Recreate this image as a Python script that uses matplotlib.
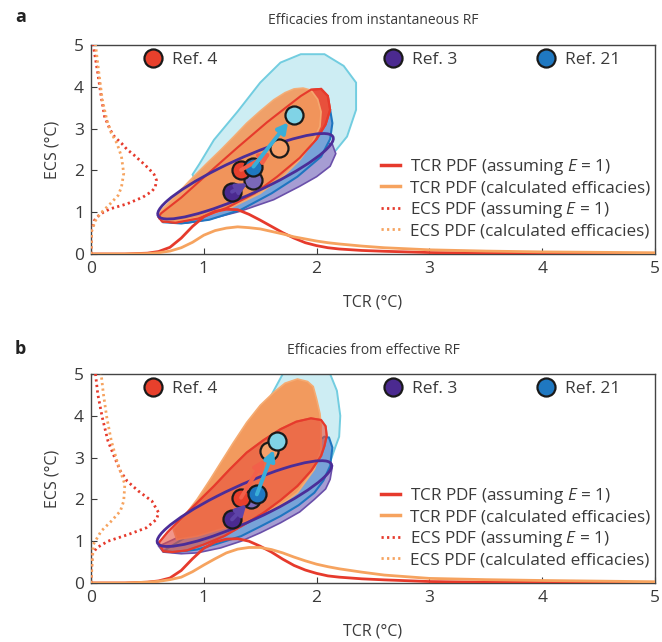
import matplotlib
matplotlib.use("Agg")
import matplotlib.pyplot as plt
from matplotlib.patches import Polygon, Ellipse
from matplotlib.lines import Line2D

plt.rcParams['font.family'] = ['Open Sans', 'DejaVu Sans']
plt.rcParams['mathtext.fontset'] = 'custom'
plt.rcParams['mathtext.rm'] = 'Open Sans'
plt.rcParams['mathtext.it'] = 'Open Sans:italic'

TXT = '#3a3a3a'
RED = '#e63a2c'
ORANGE = '#f6a35f'

ref_names = ['Ref. 4', 'Ref. 3', 'Ref. 21']
ref_colors = ['#e8402c', '#4b2a90', '#1f78c1']
calc_colors = ['#f5a06a', '#7a68b8', '#80d3e6']
arrow_colors = ['#f2604a', '#5e44a8', '#3aaed8']

# ---- panel a : efficacies from instantaneous RF ----
e1_tcr_a = [1.33, 1.25, 1.44]
e1_ecs_a = [2.01, 1.49, 2.09]
calc_tcr_a = [1.67, 1.44, 1.80]
calc_ecs_a = [2.53, 1.77, 3.33]

cyan_a = [(0.90, 1.90), (0.96, 2.15), (1.09, 2.73), (1.30, 3.41), (1.50, 4.10), (1.68, 4.58),
          (1.86, 4.78), (2.07, 4.78), (2.24, 4.50), (2.35, 4.10), (2.35, 3.45), (2.27, 2.81),
          (2.15, 2.41), (2.04, 2.09), (1.70, 1.60), (1.20, 1.40), (0.95, 1.60)]
purple_a = [(0.60, 0.85), (0.70, 0.76), (0.85, 0.74), (1.03, 0.82), (1.32, 1.02), (1.62, 1.30),
            (1.85, 1.62), (2.00, 1.85), (2.12, 2.10), (2.17, 2.40), (2.14, 2.62), (2.00, 2.75),
            (1.60, 2.20), (1.20, 1.60), (0.85, 1.10)]
blue_a = [(0.62, 0.85), (0.90, 1.30), (1.20, 1.80), (1.50, 2.40), (1.75, 2.95), (1.95, 3.40),
          (2.05, 3.62), (2.12, 3.45), (2.14, 3.13), (2.12, 2.75), (2.04, 2.33), (1.83, 1.85),
          (1.60, 1.45), (1.33, 1.06), (1.05, 0.82), (0.80, 0.73), (0.64, 0.76)]
red_a = [(0.60, 0.88), (0.62, 0.97), (0.80, 1.35), (1.09, 2.05), (1.30, 2.55), (1.56, 3.15),
         (1.75, 3.55), (1.86, 3.78), (1.95, 3.93), (2.04, 3.95), (2.10, 3.78), (2.12, 3.45),
         (2.08, 3.10), (2.00, 2.75), (1.85, 2.30), (1.65, 1.85), (1.45, 1.45), (1.20, 1.10),
         (0.95, 0.85), (0.75, 0.75), (0.63, 0.78)]
orange_a = [(0.60, 0.90), (0.62, 1.04), (0.75, 1.40), (0.88, 1.77), (1.02, 2.15), (1.15, 2.49),
            (1.27, 2.82), (1.38, 3.13), (1.50, 3.42), (1.62, 3.69), (1.72, 3.86), (1.80, 3.95),
            (1.88, 3.97), (1.95, 3.92), (2.01, 3.70), (2.04, 3.40), (2.03, 3.05), (1.96, 2.65),
            (1.85, 2.25), (1.70, 1.85), (1.50, 1.45), (1.25, 1.12), (1.00, 0.90), (0.78, 0.78),
            (0.65, 0.78)]
ellipse_a = (1.37, 1.86, 2.50, 0.60, 53.7)  # centre x, centre y, width, height, angle

tcr_x_a = [0, 0.3, 0.5, 0.6, 0.7, 0.8, 0.9, 1.0, 1.1, 1.2, 1.3, 1.4, 1.5, 1.6, 1.7, 1.8, 1.9,
           2.0, 2.1, 2.2, 2.4, 2.6, 3.0, 3.5, 4.0, 5.0]
tcr_e1_a = [0, 0, 0.02, 0.06, 0.16, 0.38, 0.66, 0.89, 1.02, 1.07, 1.06, 0.95, 0.81, 0.66, 0.51,
            0.38, 0.27, 0.20, 0.15, 0.12, 0.085, 0.065, 0.035, 0.02, 0.015, 0.01]
tcr_calc_a = [0, 0, 0.01, 0.03, 0.07, 0.15, 0.28, 0.45, 0.56, 0.62, 0.65, 0.63, 0.60, 0.54, 0.48,
              0.41, 0.36, 0.31, 0.27, 0.24, 0.19, 0.15, 0.10, 0.07, 0.05, 0.03]

ecs_y_e1_a = [0, 0.3, 0.56, 0.8, 0.88, 1.0, 1.08, 1.2, 1.36, 1.5, 1.6, 1.77, 1.9, 2.05, 2.2,
              2.37, 2.5, 2.65, 2.8, 2.97, 3.29, 3.77, 4.33, 5.0, 5.3]
ecs_e1_a = [0, 0.003, 0.006, 0.03, 0.05, 0.11, 0.17, 0.32, 0.46, 0.54, 0.57, 0.58, 0.56, 0.51,
            0.45, 0.38, 0.32, 0.27, 0.21, 0.17, 0.12, 0.09, 0.06, 0.02, 0.02]
ecs_y_calc_a = [0, 0.56, 0.8, 0.96, 1.2, 1.4, 1.6, 1.93, 2.33, 2.65, 2.89, 3.21, 3.69, 4.33, 5.0, 5.3]
ecs_calc_a = [0, 0.006, 0.04, 0.08, 0.17, 0.24, 0.27, 0.29, 0.27, 0.23, 0.18, 0.14, 0.10, 0.07,
              0.04, 0.04]

# ---- panel b : efficacies from effective RF ----
e1_tcr_b = [1.33, 1.25, 1.47]
e1_ecs_b = [2.04, 1.52, 2.12]
calc_tcr_b = [1.58, 1.42, 1.65]
calc_ecs_b = [3.16, 2.00, 3.40]

cyan_b = [(0.79, 1.28), (0.94, 1.75), (1.09, 2.16), (1.30, 2.96), (1.47, 3.76), (1.60, 4.50),
          (1.70, 5.00), (1.75, 5.30), (2.10, 5.30), (2.12, 5.00), (2.18, 4.60), (2.21, 4.00),
          (2.20, 3.50), (2.17, 3.28), (2.12, 2.90), (1.90, 2.30), (1.50, 1.70), (1.10, 1.30)]
purple_b = [(0.60, 0.88), (0.64, 0.74), (0.80, 0.70), (0.94, 0.72), (1.15, 0.84), (1.33, 1.00),
            (1.50, 1.20), (1.68, 1.44), (1.85, 1.70), (1.98, 2.00), (2.08, 2.25), (2.12, 2.48),
            (2.14, 2.80), (2.00, 2.80), (1.60, 2.20), (1.10, 1.50)]
blue_b = [(0.64, 0.76), (0.90, 1.20), (1.30, 1.95), (1.70, 2.80), (1.95, 3.30), (2.07, 3.50),
          (2.11, 3.48), (2.14, 3.24), (2.12, 2.80), (2.06, 2.45), (1.98, 2.16), (1.84, 1.86),
          (1.68, 1.60), (1.50, 1.35), (1.33, 1.12), (1.12, 0.94), (0.94, 0.80), (0.75, 0.74)]
orange_b = [(0.73, 1.28), (0.84, 1.65), (0.94, 2.00), (1.05, 2.45), (1.15, 2.88), (1.26, 3.35),
            (1.38, 3.84), (1.50, 4.25), (1.62, 4.56), (1.72, 4.78), (1.83, 4.88), (1.92, 4.82),
            (1.97, 4.70), (2.00, 4.40), (2.03, 4.05), (2.04, 3.76), (2.04, 3.20), (1.98, 2.72),
            (1.83, 2.16), (1.70, 1.90), (1.56, 1.68), (1.40, 1.50), (1.24, 1.36), (0.94, 1.12),
            (0.76, 1.04)]
red_b = [(0.60, 0.96), (0.68, 1.22), (0.79, 1.52), (0.94, 1.92), (1.09, 2.32), (1.23, 2.72),
         (1.38, 3.12), (1.53, 3.42), (1.68, 3.68), (1.82, 3.86), (1.95, 3.94), (2.04, 3.90),
         (2.08, 3.75), (2.09, 3.52), (2.07, 3.28), (2.04, 3.04), (1.95, 2.68), (1.83, 2.32),
         (1.68, 1.98), (1.53, 1.68), (1.36, 1.40), (1.18, 1.12), (1.00, 0.92), (0.85, 0.78),
         (0.72, 0.74), (0.64, 0.76)]
ellipse_b = (1.36, 1.90, 2.50, 0.60, 54.0)

tcr_x_b = [0, 0.3, 0.5, 0.6, 0.7, 0.8, 0.9, 1.0, 1.1, 1.2, 1.3, 1.4, 1.5, 1.6, 1.7, 1.8, 1.9,
           2.0, 2.1, 2.2, 2.4, 2.6, 3.0, 3.5, 4.0, 5.0]
tcr_e1_b = [0, 0, 0.02, 0.05, 0.12, 0.30, 0.58, 0.83, 0.98, 1.05, 1.06, 1.00, 0.88, 0.74, 0.57,
            0.42, 0.31, 0.23, 0.17, 0.14, 0.10, 0.075, 0.035, 0.02, 0.015, 0.01]
tcr_calc_b = [0, 0, 0.02, 0.04, 0.08, 0.14, 0.27, 0.43, 0.58, 0.72, 0.81, 0.85, 0.85, 0.80, 0.72,
              0.62, 0.53, 0.45, 0.39, 0.34, 0.26, 0.19, 0.11, 0.08, 0.06, 0.03]

ecs_y_e1_b = [0, 0.68, 0.84, 1.0, 1.16, 1.32, 1.52, 1.68, 1.96, 2.2, 2.44, 2.68, 3.0, 3.4, 3.96,
              4.52, 5.0, 5.3]
ecs_e1_b = [0, 0.01, 0.05, 0.15, 0.33, 0.49, 0.58, 0.60, 0.54, 0.42, 0.32, 0.26, 0.21, 0.15,
            0.10, 0.06, 0.04, 0.04]
ecs_y_calc_b = [0, 0.92, 1.24, 1.48, 1.72, 1.96, 2.36, 2.6, 2.92, 3.4, 3.96, 4.52, 5.0, 5.3]
ecs_calc_b = [0, 0.02, 0.09, 0.18, 0.26, 0.29, 0.30, 0.27, 0.23, 0.18, 0.14, 0.11, 0.09, 0.09]

ticks = [0, 1, 2, 3, 4, 5]


def draw_panel(ax, cyan, purple, blue, red, orange, ell, red_on_top,
               tcr_x, tcr_e1, tcr_calc, ecs_y_e1, ecs_e1, ecs_y_calc, ecs_calc,
               e1_x, e1_y, c_x, c_y):
    ax.add_patch(Polygon(cyan, closed=True, fc='#cdedf3', ec='#72cde0', lw=1.4, zorder=1))
    ax.add_patch(Polygon(purple, closed=True, fc='#a69dd3', ec='#6a50aa', lw=1.2, zorder=2))
    ax.add_patch(Polygon(blue, closed=True, fc='#78a3d8', ec='#1f75c0', lw=1.5, zorder=3))
    if red_on_top:
        ax.add_patch(Polygon(orange, closed=True, fc='#f29a5e', ec='#f5ab72', lw=1.2, zorder=4))
        ax.add_patch(Polygon(red, closed=True, fc='#e8503c', ec=RED, lw=1.5, alpha=0.6, zorder=5))
    else:
        ax.add_patch(Polygon(red, closed=True, fc='#e8503c', ec=RED, lw=1.5, zorder=4))
        ax.add_patch(Polygon(orange, closed=True, fc='#f29a5e', ec='#f5ab72', lw=1.2,
                             alpha=0.93, zorder=5))
    ax.add_patch(Polygon(red, closed=True, fc='none', ec=RED, lw=1.5, zorder=6))
    cx, cy, w, h, ang = ell
    ax.add_patch(Ellipse((cx, cy), w, h, angle=ang, fc='none', ec='#4b2d98', lw=2, zorder=7))

    # PDFs
    ax.plot(tcr_x, tcr_e1, color=RED, lw=2, zorder=8)
    ax.plot(tcr_x, tcr_calc, color=ORANGE, lw=2, zorder=8)
    ax.plot(ecs_e1, ecs_y_e1, color=RED, lw=2, ls=(0, (0.8, 1.2)), zorder=8)
    ax.plot(ecs_calc, ecs_y_calc, color=ORANGE, lw=2, ls=(0, (0.8, 1.2)), zorder=8)

    # best estimates and shifts
    for i in range(3):
        ax.plot(c_x[i], c_y[i], 'o', ms=13, mfc=calc_colors[i], mec='#1a1a1a', mew=1.6, zorder=9)
    for i in range(3):
        ax.plot(e1_x[i], e1_y[i], 'o', ms=13, mfc=ref_colors[i], mec='#1a1a1a', mew=1.6, zorder=10)
    for i in range(3):
        ax.annotate('', xy=(c_x[i], c_y[i]), xytext=(e1_x[i], e1_y[i]), zorder=11,
                    arrowprops=dict(arrowstyle='-|>,head_length=0.6,head_width=0.32',
                                    color=arrow_colors[i], lw=2.8, shrinkA=0,
                                    shrinkB=5 if i == 1 else 7))

    ax.set_xlim(0, 5)
    ax.set_ylim(0, 5)
    ax.set_xticks(ticks)
    ax.set_yticks(ticks)
    ax.tick_params(direction='in', length=4, labelsize=12.5, colors=TXT, pad=5)
    for s in ax.spines.values():
        s.set_color('#444444')
        s.set_linewidth(1)
    ax.set_xlabel('TCR (°C)', fontsize=11.5, color=TXT, labelpad=13)
    ax.set_ylabel('ECS (°C)', fontsize=11.5, color=TXT, labelpad=10)

    # reference markers along the top
    for i, xpos in enumerate([0.095, 0.520, 0.791]):
        h = Line2D([], [], ls='none', marker='o', ms=13, mfc=ref_colors[i],
                   mec='#1a1a1a', mew=1.6)
        lg = ax.legend([h], [ref_names[i]], loc='center left', bbox_to_anchor=(xpos, 0.928),
                       frameon=False, fontsize=12.5, handlelength=1.0, handletextpad=0.6,
                       borderpad=0, borderaxespad=0, labelcolor=TXT)
        lg.set_zorder(12)
        ax.add_artist(lg)

    handles = [Line2D([], [], color=RED, lw=2.5),
               Line2D([], [], color=ORANGE, lw=2.5),
               Line2D([], [], color=RED, lw=2, ls=(0, (0.8, 1.2))),
               Line2D([], [], color=ORANGE, lw=2, ls=(0, (0.8, 1.2)))]
    labels = ['TCR PDF (assuming $\\mathit{E}$ = 1)', 'TCR PDF (calculated efficacies)',
              'ECS PDF (assuming $\\mathit{E}$ = 1)', 'ECS PDF (calculated efficacies)']
    lg = ax.legend(handles, labels, loc='center left', bbox_to_anchor=(0.515, 0.268),
                   frameon=False, fontsize=12.3, handlelength=1.1, handletextpad=0.55,
                   borderpad=0, borderaxespad=0, labelspacing=0.2, labelcolor=TXT)
    lg.set_zorder(12)


fig = plt.figure(figsize=(6.62, 6.42), dpi=100)
ax_a = fig.add_axes([91 / 662, 1 - 254 / 642, 564 / 662, 209 / 642])
ax_b = fig.add_axes([91 / 662, 1 - 583 / 642, 564 / 662, 209 / 642])

draw_panel(ax_a, cyan_a, purple_a, blue_a, red_a, orange_a, ellipse_a, False,
           tcr_x_a, tcr_e1_a, tcr_calc_a, ecs_y_e1_a, ecs_e1_a, ecs_y_calc_a, ecs_calc_a,
           e1_tcr_a, e1_ecs_a, calc_tcr_a, calc_ecs_a)
draw_panel(ax_b, cyan_b, purple_b, blue_b, red_b, orange_b, ellipse_b, True,
           tcr_x_b, tcr_e1_b, tcr_calc_b, ecs_y_e1_b, ecs_e1_b, ecs_y_calc_b, ecs_calc_b,
           e1_tcr_b, e1_ecs_b, calc_tcr_b, calc_ecs_b)

fig.text(15 / 662, 1 - 17 / 642, 'a', fontsize=13, fontweight='bold', va='center', color='#222222')
fig.text(15 / 662, 1 - 349 / 642, 'b', fontsize=13, fontweight='bold', va='center', color='#222222')
fig.text(373 / 662, 1 - 20 / 642, 'Efficacies from instantaneous RF', fontsize=10,
         ha='center', va='center', color=TXT)
fig.text(373 / 662, 1 - 351 / 642, 'Efficacies from effective RF', fontsize=10,
         ha='center', va='center', color=TXT)

fig.savefig('out.png', dpi=100)
